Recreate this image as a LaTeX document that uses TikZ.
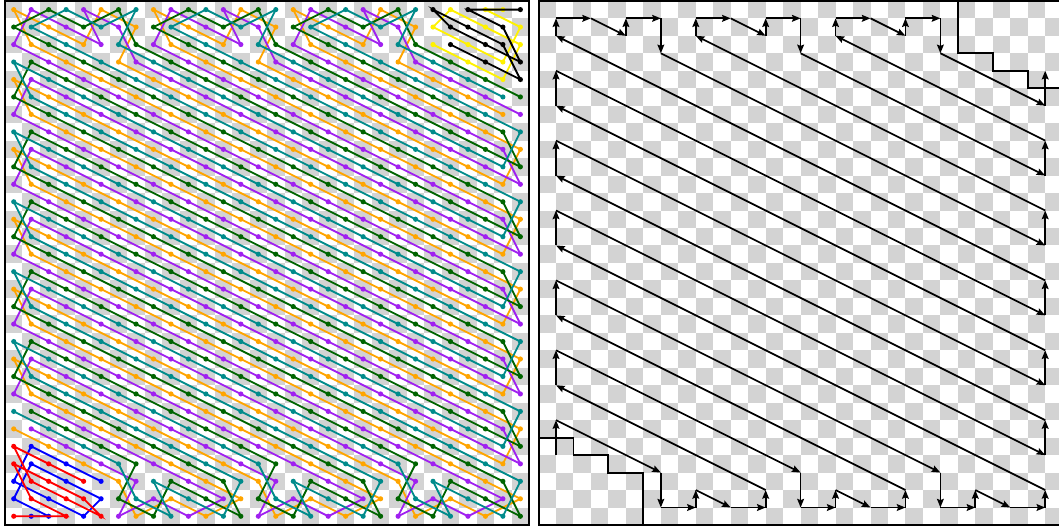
\documentclass[tikz,border=0pt]{standalone}
\usetikzlibrary{arrows.meta}
\definecolor{cgray}{RGB}{211,211,211}
\definecolor{corange}{RGB}{255,165,0}
\definecolor{cpurple}{RGB}{160,32,240}
\definecolor{cgreen}{RGB}{0,100,0}
\definecolor{cteal}{RGB}{0,139,139}
\tikzset{
  arr/.style={line width=1.4pt, -{Stealth[length=7pt,width=5.5pt,inset=1pt]}},
  frame/.style={line width=1.6pt},
  thr/.style={line width=1.5pt},
}
\newcommand\setcc[2]{%
  \pgfmathtruncatemacro\zk{floor((#1)/2)}%
  \pgfmathtruncatemacro\zm{mod((#2)-\zk+400,4)}%
  \pgfmathtruncatemacro\zo{mod((#1),2)}%
  \pgfmathtruncatemacro\zcm{mod((#1),8)}%
  \pgfmathtruncatemacro\zsa{(((#2)==0)&&((#1)<24)&&((\zcm==2)||(\zcm==3)))||(((#2)==1)&&((#1)<24)&&((\zcm==4)||(\zcm==5)))}%
  \pgfmathtruncatemacro\zsb{(((#2)==28)&&((#1)>=8)&&((\zcm==0)||(\zcm==1)))||(((#2)==29)&&((#1)>=8)&&((\zcm==2)||(\zcm==3)))}%
  \ifnum\zo=0 \ifcase\zm \def\zid{0}\or\def\zid{2}\or\def\zid{1}\or\def\zid{3}\fi
  \else \ifcase\zm \def\zid{1}\or\def\zid{3}\or\def\zid{0}\or\def\zid{2}\fi\fi
  \ifnum\zsa=1 \ifnum\zid>1 \pgfmathtruncatemacro\zid{5-\zid}\fi\fi
  \ifnum\zsb=1 \ifnum\zid<2 \pgfmathtruncatemacro\zid{1-\zid}\fi\fi
  \ifcase\zid \def\zcol{corange}\or\def\zcol{cpurple}\or\def\zcol{cgreen}\or\def\zcol{cteal}\fi
}
\newcommand\zseg[4]{%
  \pgfmathtruncatemacro\zA{#1}\pgfmathtruncatemacro\zB{#2}%
  \pgfmathtruncatemacro\zC{#3}\pgfmathtruncatemacro\zD{#4}%
  \setcc{\zA}{\zB}%
  \ifx\zcol\curT \draw[thr,\zcol] (\zA+0.5,\zB+0.5) -- (\zC+0.5,\zD+0.5);\fi
}
\newcommand\zdiag[4]{\zseg{#1-1}{#2-1}{#3-1}{#4-1}\zseg{#1}{#2-1}{#3}{#4-1}\zseg{#1-1}{#2}{#3-1}{#4}\zseg{#1}{#2}{#3}{#4}}
\newcommand\zvm[3]{\zseg{#1-1}{#2-1}{#1}{#3-1}\zseg{#1}{#2-1}{#1-1}{#3-1}\zseg{#1-1}{#2}{#1}{#3}\zseg{#1}{#2}{#1-1}{#3}}
\newcommand\zhm[2]{\zseg{#1-1}{#2-1}{#1+1}{#2}\zseg{#1}{#2-1}{#1+2}{#2}\zseg{#1-1}{#2}{#1+1}{#2-1}\zseg{#1}{#2}{#1+2}{#2-1}}
\newcommand\zum[2]{\zseg{#1-1}{#2}{#1}{#2-2}\zseg{#1}{#2}{#1-1}{#2-2}}
\newcommand\zallmoves{%
  \zdiag{1}{24}{7}{27}\zvm{7}{27}{29}\zhm{7}{29}\zum{9}{29}\zdiag{9}{28}{11}{29}\zhm{11}{29}\zum{13}{29}
  \zdiag{13}{28}{1}{22}\zvm{1}{22}{20}\zdiag{1}{20}{15}{27}
  \zvm{15}{27}{29}\zhm{15}{29}\zum{17}{29}\zdiag{17}{28}{19}{29}\zhm{19}{29}\zum{21}{29}
  \zdiag{21}{28}{1}{18}\zvm{1}{18}{16}\zdiag{1}{16}{23}{27}
  \zvm{23}{27}{29}\zhm{23}{29}\zum{25}{29}\zdiag{25}{28}{27}{29}\zhm{27}{29}\zum{29}{29}
  \zdiag{29}{28}{1}{14}\zvm{1}{14}{12}\zdiag{1}{12}{29}{26}\zvm{29}{26}{24}
  \zdiag{29}{24}{1}{10}\zvm{1}{10}{8}\zdiag{1}{8}{29}{22}\zvm{29}{22}{20}
  \zdiag{29}{20}{1}{6}\zvm{1}{6}{4}\zdiag{1}{4}{29}{18}\zvm{29}{18}{16}
  \zdiag{29}{16}{1}{2}\zum{1}{2}\zhm{1}{1}\zdiag{3}{1}{5}{2}\zum{5}{2}\zhm{5}{1}\zvm{7}{1}{3}
  \zdiag{7}{3}{29}{14}\zvm{29}{14}{12}
  \zdiag{29}{12}{9}{2}\zum{9}{2}\zhm{9}{1}\zdiag{11}{1}{13}{2}\zum{13}{2}\zhm{13}{1}\zvm{15}{1}{3}
  \zdiag{15}{3}{29}{10}\zvm{29}{10}{8}
  \zdiag{29}{8}{17}{2}\zum{17}{2}\zhm{17}{1}\zdiag{19}{1}{21}{2}\zum{21}{2}\zhm{21}{1}\zvm{23}{1}{3}
  \zdiag{23}{3}{29}{6}}
\begin{document}
\begin{tikzpicture}[x=0.5cm,y=0.5cm]
\useasboundingbox (-0.286,-0.057) rectangle (60.33,30.05);
% checkerboards
\foreach \c in {0,...,29}{\foreach \r in {0,...,29}{
  \pgfmathtruncatemacro\pp{mod(\c+\r,2)}
  \ifnum\pp=0
    \fill[cgray] (\c,29-\r) rectangle ++(1,1);
    \fill[cgray] (30.54+\c,29-\r) rectangle ++(1,1);
  \fi}}
% left panel
\begin{scope}[shift={(0,30)},yscale=-1]
  \foreach \th in {corange,cpurple,cgreen,cteal}{
    \edef\curT{\th}
    \zallmoves
    \foreach \c in {0,...,29}{\foreach \r in {0,...,29}{
      \pgfmathtruncatemacro\tr{((\c>=24)&&(\r<=2))||((\c>=26)&&(\r<=3))||((\c>=28)&&(\r<=4))||((\c<=1)&&(\r>=25))||((\c<=3)&&(\r>=26))||((\c<=5)&&(\r>=27))}
      \ifnum\tr=0
        \setcc{\c}{\r}
        \ifx\zcol\curT \fill[\zcol] (\c+0.5,\r+0.5) circle (2.1pt);\fi
      \fi
    }}
  }
  % top-right corner threads
  \draw[thr,yellow] (24.5,2.5) -- (26.5,3.5) -- (28.5,4.5) -- (29.5,2.5) -- (27.5,1.5) -- (25.5,0.5) -- (24.5,1.5) -- (26.5,2.5) -- (28.5,3.5) -- (29.5,1.5) -- (27.5,0.5) -- (28.5,0.5);
  \foreach \x/\y in {24/2,26/3,28/4,29/2,27/1,25/0,24/1,26/2,28/3,29/1,27/0,28/0} \fill[yellow] (\x+0.5,\y+0.5) circle (2.1pt);
  \draw[thr,black] (25.5,2.5) -- (27.5,3.5) -- (29.5,4.5) -- (28.5,2.5) -- (26.5,1.5) -- (24.5,0.5) -- (25.5,1.5) -- (27.5,2.5) -- (29.5,3.5) -- (28.5,1.5) -- (26.5,0.5) -- (29.5,0.5);
  \foreach \x/\y in {25/2,27/3,29/4,28/2,26/1,24/0,25/1,27/2,29/3,28/1,26/0,29/0} \fill[black] (\x+0.5,\y+0.5) circle (2.1pt);
  % bottom-left corner threads
  \draw[thr,blue] (5.5,27.5) -- (3.5,26.5) -- (1.5,25.5) -- (0.5,27.5) -- (2.5,28.5) -- (4.5,29.5) -- (5.5,28.5) -- (3.5,27.5) -- (1.5,26.5) -- (0.5,28.5) -- (2.5,29.5) -- (1.5,29.5);
  \foreach \x/\y in {5/27,3/26,1/25,0/27,2/28,4/29,5/28,3/27,1/26,0/28,2/29,1/29} \fill[blue] (\x+0.5,\y+0.5) circle (2.1pt);
  \draw[thr,red] (4.5,27.5) -- (2.5,26.5) -- (0.5,25.5) -- (1.5,27.5) -- (3.5,28.5) -- (5.5,29.5) -- (4.5,28.5) -- (2.5,27.5) -- (0.5,26.5) -- (1.5,28.5) -- (3.5,29.5) -- (0.5,29.5);
  \foreach \x/\y in {4/27,2/26,0/25,1/27,3/28,5/29,4/28,2/27,0/26,1/28,3/29,0/29} \fill[red] (\x+0.5,\y+0.5) circle (2.1pt);
\end{scope}
\draw[frame] (0,0) rectangle (30,30);
% right panel
\begin{scope}[shift={(30.54,30)},yscale=-1]
  \draw[frame] (0,0) rectangle (30,30);
  \draw[frame] (24,0) -- (24,3) -- (26,3) -- (26,4) -- (28,4) -- (28,5) -- (30,5);
  \draw[frame] (0,25) -- (2,25) -- (2,26) -- (4,26) -- (4,27) -- (6,27) -- (6,30);
  \foreach \a/\b/\c/\d in {
    1/26/1/24, 1/24/7/27, 7/27/7/29, 7/29/9/29, 9/29/9/28, 9/28/11/29, 11/29/13/29, 13/29/13/28,
    13/28/1/22, 1/22/1/20, 1/20/15/27, 15/27/15/29, 15/29/17/29, 17/29/17/28, 17/28/19/29, 19/29/21/29, 21/29/21/28,
    21/28/1/18, 1/18/1/16, 1/16/23/27, 23/27/23/29, 23/29/25/29, 25/29/25/28, 25/28/27/29, 27/29/29/29, 29/29/29/28,
    29/28/1/14, 1/14/1/12, 1/12/29/26, 29/26/29/24, 29/24/1/10, 1/10/1/8, 1/8/29/22, 29/22/29/20,
    29/20/1/6, 1/6/1/4, 1/4/29/18, 29/18/29/16, 29/16/1/2, 1/2/1/1, 1/1/3/1, 3/1/5/2, 5/2/5/1, 5/1/7/1, 7/1/7/3,
    7/3/29/14, 29/14/29/12, 29/12/9/2, 9/2/9/1, 9/1/11/1, 11/1/13/2, 13/2/13/1, 13/1/15/1, 15/1/15/3,
    15/3/29/10, 29/10/29/8, 29/8/17/2, 17/2/17/1, 17/1/19/1, 19/1/21/2, 21/2/21/1, 21/1/23/1, 23/1/23/3,
    23/3/29/6, 29/6/29/4}
    \draw[arr] (\a,\b) -- (\c,\d);
\end{scope}
\end{tikzpicture}
\end{document}
